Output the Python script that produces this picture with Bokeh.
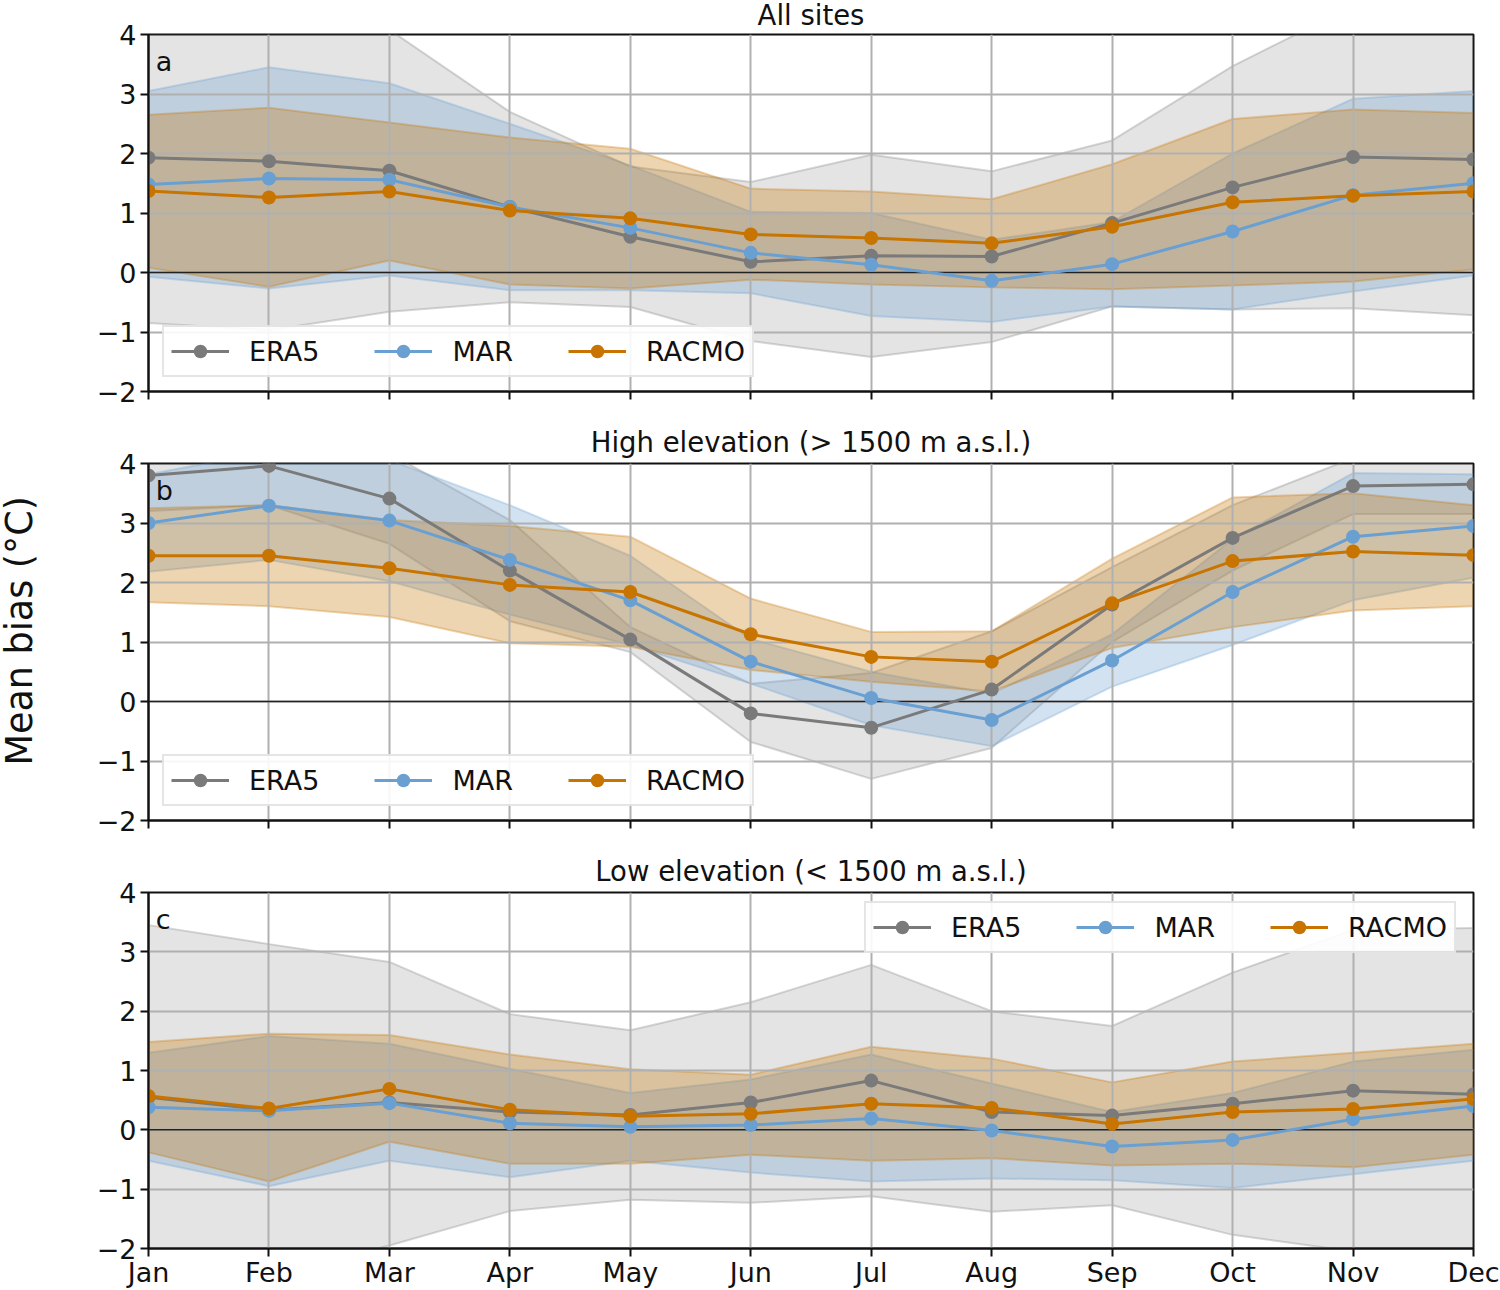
from bokeh.plotting import figure
from bokeh.layouts import column
from bokeh.models import (Range1d, FixedTicker, Legend, LegendItem, Label, Span, Title)
from bokeh.embed import file_html
from bokeh.resources import INLINE

months = ["Jan", "Feb", "Mar", "Apr", "May", "Jun", "Jul", "Aug", "Sep", "Oct", "Nov", "Dec"]
y_ticks = [-2, -1, 0, 1, 2, 3, 4]

# Panel a
a_era5 = [1.93, 1.87, 1.71, 1.10, 0.60, 0.18, 0.28, 0.27, 0.83, 1.43, 1.94, 1.90]
a_era5_hi = [4.71, 4.71, 4.08, 2.70, 1.78, 1.52, 1.98, 1.70, 2.22, 3.47, 4.48, 4.52]
a_era5_lo = [-0.85, -0.97, -0.66, -0.50, -0.58, -1.15, -1.42, -1.17, -0.57, -0.62, -0.60, -0.72]
a_mar = [1.48, 1.58, 1.56, 1.10, 0.75, 0.33, 0.13, -0.14, 0.14, 0.69, 1.30, 1.50]
a_mar_hi = [3.05, 3.45, 3.18, 2.50, 1.80, 1.02, 1.00, 0.55, 0.85, 2.00, 2.92, 3.05]
a_mar_lo = [-0.07, -0.27, -0.05, -0.30, -0.30, -0.35, -0.73, -0.83, -0.57, -0.62, -0.32, -0.05]
a_racmo = [1.37, 1.26, 1.36, 1.04, 0.91, 0.64, 0.58, 0.49, 0.77, 1.18, 1.29, 1.36]
a_racmo_hi = [2.65, 2.77, 2.52, 2.27, 2.08, 1.41, 1.36, 1.23, 1.82, 2.58, 2.74, 2.68]
a_racmo_lo = [0.08, -0.24, 0.20, -0.20, -0.27, -0.12, -0.20, -0.25, -0.28, -0.22, -0.15, 0.05]

# Panel b
b_era5 = [3.80, 3.96, 3.41, 2.20, 1.04, -0.20, -0.44, 0.20, 1.63, 2.75, 3.62, 3.65]
b_era5_hi = [4.40, 4.62, 4.17, 3.05, 1.25, 0.30, 0.48, 1.18, 2.26, 3.30, 4.09, 4.15]
b_era5_lo = [3.20, 3.30, 2.65, 1.35, 0.83, -0.68, -1.30, -0.78, 1.00, 2.20, 3.15, 3.15]
b_mar = [3.00, 3.29, 3.04, 2.38, 1.70, 0.67, 0.06, -0.31, 0.69, 1.84, 2.77, 2.95]
b_mar_hi = [3.82, 4.20, 4.06, 3.30, 2.45, 1.05, 0.50, 0.13, 1.13, 2.73, 3.84, 3.82]
b_mar_lo = [2.18, 2.38, 2.02, 1.46, 0.95, 0.30, -0.40, -0.75, 0.25, 0.95, 1.70, 2.08]
b_racmo = [2.45, 2.45, 2.24, 1.96, 1.84, 1.13, 0.75, 0.67, 1.65, 2.36, 2.52, 2.46]
b_racmo_hi = [3.25, 3.30, 3.05, 2.95, 2.77, 1.73, 1.17, 1.18, 2.40, 3.43, 3.50, 3.30]
b_racmo_lo = [1.67, 1.60, 1.42, 0.98, 0.92, 0.53, 0.33, 0.17, 0.90, 1.25, 1.53, 1.60]

# Panel c
c_era5 = [0.55, 0.33, 0.46, 0.30, 0.25, 0.46, 0.83, 0.30, 0.24, 0.44, 0.66, 0.60]
c_era5_hi = [3.45, 3.13, 2.83, 1.95, 1.68, 2.15, 2.78, 2.00, 1.75, 2.65, 3.37, 3.40]
c_era5_lo = [-2.35, -2.47, -1.95, -1.37, -1.18, -1.23, -1.12, -1.38, -1.27, -1.77, -2.05, -2.20]
c_mar = [0.38, 0.32, 0.45, 0.11, 0.05, 0.08, 0.19, -0.01, -0.28, -0.17, 0.18, 0.40]
c_mar_hi = [1.30, 1.58, 1.45, 1.03, 0.62, 0.85, 1.27, 0.78, 0.30, 0.62, 1.15, 1.35]
c_mar_lo = [-0.52, -0.95, -0.52, -0.80, -0.52, -0.72, -0.87, -0.82, -0.85, -0.98, -0.75, -0.52]
c_racmo = [0.57, 0.36, 0.69, 0.34, 0.23, 0.27, 0.44, 0.37, 0.10, 0.30, 0.35, 0.52]
c_racmo_hi = [1.48, 1.62, 1.60, 1.27, 1.02, 0.93, 1.40, 1.20, 0.80, 1.15, 1.30, 1.45]
c_racmo_lo = [-0.38, -0.87, -0.20, -0.57, -0.57, -0.42, -0.52, -0.48, -0.60, -0.57, -0.63, -0.42]

FONT = "DejaVu Sans"
COL = {"ERA5": "#7a7a7a", "MAR": "#6a9fd2", "RACMO": "#c87400"}
FILL_A = {"ERA5": 0.20, "MAR": 0.30, "RACMO": 0.30}
x = list(range(len(months)))
SHIFT_X = 62
SHIFT_Y = 10


def panel(title, letter, series, top, bottom, height, legend_loc, show_x, title_standoff=8):
    p = figure(width=1500 + SHIFT_X, height=height, output_backend="svg", toolbar_location=None,
               x_range=Range1d(0, 11), y_range=Range1d(-2, 4),
               min_border_left=148 + SHIFT_X, min_border_right=27,
               min_border_top=top, min_border_bottom=bottom)
    p.title.text = title
    p.title.align = "center"
    p.title.vertical_align = "top"
    p.title.text_font = FONT
    p.title.text_font_size = "27.5px"
    p.title.text_font_style = "normal"
    p.title.text_color = "#111111"
    p.title.standoff = title_standoff
    p.outline_line_color = "#111111"
    p.outline_line_width = 2
    p.background_fill_color = "white"

    for ax in (p.xaxis[0], p.yaxis[0]):
        ax.axis_line_color = "#111111"
        ax.axis_line_width = 2
        ax.major_tick_line_color = "#111111"
        ax.major_tick_line_width = 2
        ax.major_tick_out = 8
        ax.major_tick_in = 0
        ax.minor_tick_line_color = None
        ax.major_label_text_font = FONT
        ax.major_label_text_font_size = "27px"
        ax.major_label_text_color = "#111111"
    p.xaxis[0].ticker = FixedTicker(ticks=x)
    p.xaxis[0].major_label_overrides = {i: (m if show_x else "") for i, m in enumerate(months)}
    p.xaxis[0].major_label_standoff = 0
    p.yaxis[0].ticker = FixedTicker(ticks=y_ticks)
    p.yaxis[0].major_label_overrides = {t: str(t).replace("-", "\u2212") for t in y_ticks}
    p.yaxis[0].major_label_standoff = 4
    p.grid.grid_line_color = "#b0b0b0"
    p.grid.grid_line_width = 2

    for name, (_, hi, lo) in series.items():
        p.varea(x, lo, hi, fill_color=COL[name], fill_alpha=FILL_A[name], level="image")
        p.line(x, hi, line_color=COL[name], line_alpha=0.3, line_width=2, level="image")
        p.line(x, lo, line_color=COL[name], line_alpha=0.3, line_width=2, level="image")

    p.add_layout(Span(location=0, dimension="width", line_color="#222222", line_width=1.5, level="underlay"))

    items = []
    for name, (mean, _, _) in series.items():
        ln = p.line(x, mean, line_color=COL[name], line_width=3)
        sc = p.scatter(x, mean, size=14, fill_color=COL[name], line_color=COL[name], line_width=0)
        items.append(LegendItem(label=name, renderers=[ln, sc]))

    leg = Legend(items=items, orientation="horizontal", location=legend_loc,
                 label_text_font=FONT, label_text_font_size="27px", label_text_color="#111111",
                 glyph_width=58, glyph_height=34, label_standoff=20, spacing=55,
                 padding=7, margin=0,
                 background_fill_color="white", background_fill_alpha=0.9,
                 border_line_color="#cccccc", border_line_width=2)
    p.add_layout(leg)

    p.add_layout(Label(x=0.06, y=3.55, text=letter, text_font=FONT, text_font_size="27px",
                       text_color="#111111", text_align="left", text_baseline="middle"))
    return p


pa = panel("All sites", "a",
           {"ERA5": (a_era5, a_era5_hi, a_era5_lo), "MAR": (a_mar, a_mar_hi, a_mar_lo),
            "RACMO": (a_racmo, a_racmo_hi, a_racmo_lo)}, 44, 26, 427, (14, 14), False, title_standoff=3)
pb = panel("High elevation (> 1500 m a.s.l.)", "b",
           {"ERA5": (b_era5, b_era5_hi, b_era5_lo), "MAR": (b_mar, b_mar_hi, b_mar_lo),
            "RACMO": (b_racmo, b_racmo_hi, b_racmo_lo)}, 46, 26, 429, (14, 14), False)
pc = panel("Low elevation (< 1500 m a.s.l.)", "c",
           {"ERA5": (c_era5, c_era5_hi, c_era5_lo), "MAR": (c_mar, c_mar_hi, c_mar_lo),
            "RACMO": (c_racmo, c_racmo_hi, c_racmo_lo)}, 46, 41, 444, (716, 295), True)

pb.add_layout(Title(text="Mean bias (\u00b0C)", align="left", vertical_align="top", offset=55,
                    standoff=102, text_font=FONT, text_font_size="36.5px",
                    text_font_style="normal", text_color="#111111"), "left")

layout = column(pa, pb, pc, spacing=0, margin=(-SHIFT_Y, 0, 0, -SHIFT_X))
open("out.html", "w").write(file_html(layout, INLINE))
